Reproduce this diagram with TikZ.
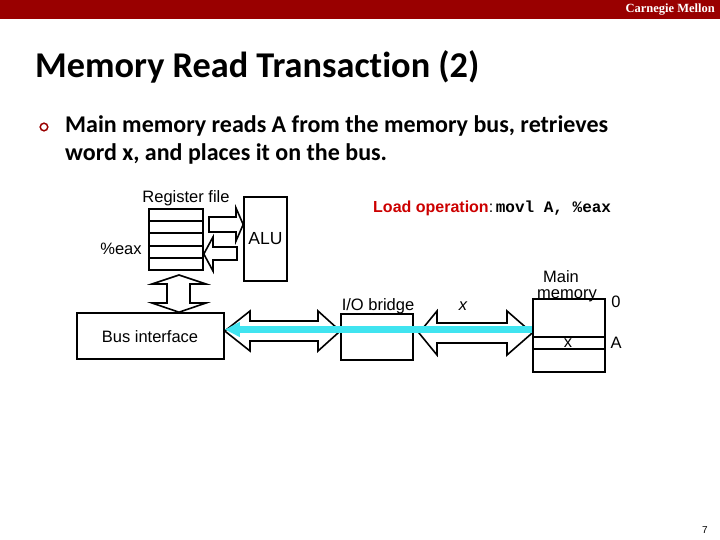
\documentclass[tikz,border=0pt]{standalone}
\usepackage{fontspec}
\setmainfont{Liberation Sans}
\newfontfamily\calibri[Ligatures=NoCommon]{Carlito}
\newfontfamily\timesf{Liberation Serif}
\newfontfamily\monof{Liberation Mono}
\usetikzlibrary{calc,arrows.meta}
\definecolor{cmured}{RGB}{153,0,0}
\definecolor{loadred}{RGB}{204,0,0}
\definecolor{buscyan}{RGB}{64,228,240}
\tikzset{
  box/.style={draw, line width=1.6pt, fill=white, inner sep=0pt},
  fat/.style={draw, line width=1.6pt, fill=white, line join=miter},
  lbl/.style={inner sep=0pt, font=\fontsize{16.5}{18}\selectfont},
  bul/.style={anchor=base west, inner sep=0pt, font=\calibri\bfseries\fontsize{24}{28}\selectfont},
}
\begin{document}
\begin{tikzpicture}[x=1pt,y=-1pt]
\useasboundingbox (0,0) rectangle (720,540);
% header bar
\fill[cmured] (0,0) rectangle (720,19);
\node[anchor=east, text=white, inner sep=0pt, font=\timesf\bfseries\fontsize{12.5}{14}\selectfont] (brand) at (715,9.5) {Carnegie Mellon};
% title
\node[anchor=base west, inner sep=0pt, font=\calibri\bfseries\fontsize{36.3}{40}\selectfont] (title) at (35,78) {Memory Read Transaction (2)};
% bullet
\draw[cmured, line width=1.5pt] (44,127) circle (3.8);
\node[bul] (bullet1) at (65,133) {Main memory reads A from the memory bus, retrieves};
\node[bul] (bullet2) at (65,161) {word x, and places it on the bus.};

% boxes
\node[box, minimum width=54pt, minimum height=61pt] (reg) at (176,239.5) {};
\foreach \yy in {221,233,246,258} \draw[line width=1.6pt] (149,\yy) -- (203,\yy);
\node[box, minimum width=43pt, minimum height=84pt] (alu) at (265.5,239) {};
\node[box, minimum width=147pt, minimum height=46pt] (busif) at (150.5,336) {};
\node[box, minimum width=72pt, minimum height=46pt] (bridge) at (377,337) {};
\node[box, minimum width=72pt, minimum height=73pt] (mem) at (569,335.5) {};
\draw[line width=1.6pt] (mem.west |- 0,337) -- (mem.east |- 0,337);
\draw[line width=1.6pt] (mem.west |- 0,349) -- (mem.east |- 0,349);

% labels
\node[lbl] (reglbl) at (186,198) {Register file};
\node[lbl] (eax) at (121,249) {\%eax};
\node[lbl, font=\fontsize{17.5}{19}\selectfont] (alulbl) at (alu) {ALU};
\node[lbl] (buslbl) at (150,337) {Bus interface};
\node[lbl] (brlbl) at (378,306) {I/O bridge};
\node[lbl, font=\itshape\fontsize{16.5}{18}\selectfont] (xbus) at (463,306) {x};
\node[lbl] (mainlbl) at (561,277) {Main};
\node[lbl] (memlbl) at (567,296) {memory};
\node[lbl] (zero) at (616,302) {0};
\node[lbl] (addrA) at (616,343) {A};
\node[lbl] (xmem) at (568,343) {x};
\node[anchor=base west, inner sep=0pt] (load) at (373,212)
 {\fontsize{16}{18}\selectfont\bfseries\textcolor{loadred}{Load operation}\mdseries:\,\monof\bfseries movl A, \%eax};

% fat arrows
% register -> ALU
\draw[fat] (209,217) -- (236,217) -- (236,208) -- (alu.west |- 0,224.5) -- (236,241) -- (236,232) -- (209,232) -- cycle;
% ALU -> register
\draw[fat] (237,247) -- (213,247) -- (213,237) -- (reg.east |- 0,254) -- (213,271) -- (213,260) -- (237,260) -- cycle;
% register <-> bus interface
\draw[fat] (179,275) -- (206,284) -- (190,284) -- (190,303) -- (206,303) -- (busif.north -| 179,0) -- (152,303) -- (167,303) -- (167,284) -- (152,284) -- cycle;
% bus interface <-> I/O bridge
\draw[fat] (busif.east |- 0,331) -- (250,311) -- (250,321) -- (318,321) -- (318,311) -- (bridge.west |- 0,331) -- (318,351) -- (318,341) -- (250,341) -- (250,351) -- cycle;
% I/O bridge <-> main memory
\draw[fat] (419,333) -- (437,311) -- (437,323) -- (507,323) -- (507,311) -- (mem.west |- 0,333) -- (507,355) -- (507,343) -- (437,343) -- (437,355) -- cycle;

% data on bus (cyan)
\draw[buscyan, line width=7.5pt, -{Triangle[length=15pt,width=14pt]}] (mem.west |- 0,329.5) -- (busif.east |- 0,329.5);

% page number
\node[inner sep=0pt, font=\fontsize{10}{12}\selectfont] (pg) at (705,530) {7};
\end{tikzpicture}
\end{document}
